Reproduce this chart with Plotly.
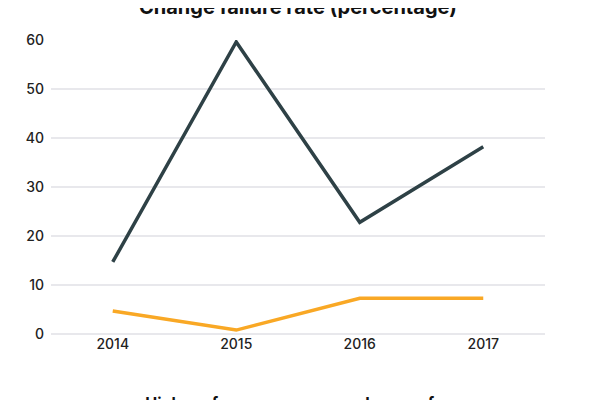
import plotly.graph_objects as go

years = ["2014", "2015", "2016", "2017"]
high_performers = [4.7, 0.8, 7.3, 7.3]
low_performers = [14.7, 59.6, 22.8, 38.2]
y_ticks = [0, 10, 20, 30, 40, 50, 60]

fig = go.Figure()
fig.add_trace(go.Scatter(x=years, y=high_performers, mode="lines", name="High performers",
                         line=dict(color="#F9A825", width=3.5)))
fig.add_trace(go.Scatter(x=years, y=low_performers, mode="lines", name="Low performers",
                         line=dict(color="#2E4146", width=3.5)))

fig.add_annotation(text="Change failure rate (percentage)", xref="paper", yref="paper",
                   x=0.5, y=1.112, xanchor="center", yanchor="middle", showarrow=False,
                   font=dict(family="Inter", size=20, weight=700, color="#111"))

fig.update_layout(
    width=600, height=400,
    margin=dict(l=43, r=63, t=32, b=74, autoexpand=False),
    paper_bgcolor="white", plot_bgcolor="white",
    font=dict(family="Inter", size=14, color="#222"),
    showlegend=True,
    legend=dict(orientation="h", x=0.162, xanchor="left", xref="container",
                y=0.0125, yanchor="middle", yref="container", entrywidth=175,
                font=dict(family="Inter", size=16, weight=700, color="#111")),
    xaxis=dict(type="category", range=[-0.5, 3.5], showgrid=False, showline=False,
               zeroline=False, ticks="", automargin=False,
               tickfont=dict(size=14, weight=500)),
    yaxis=dict(range=[0, 60], tickvals=y_ticks, showgrid=True, gridcolor="#E8E8EC",
               gridwidth=2, zeroline=True, zerolinecolor="#E8E8EC", zerolinewidth=2,
               showline=False, ticks="", ticklabelstandoff=6, automargin=False,
               tickfont=dict(size=14, weight=500)),
)

fig.write_html("out.html")
